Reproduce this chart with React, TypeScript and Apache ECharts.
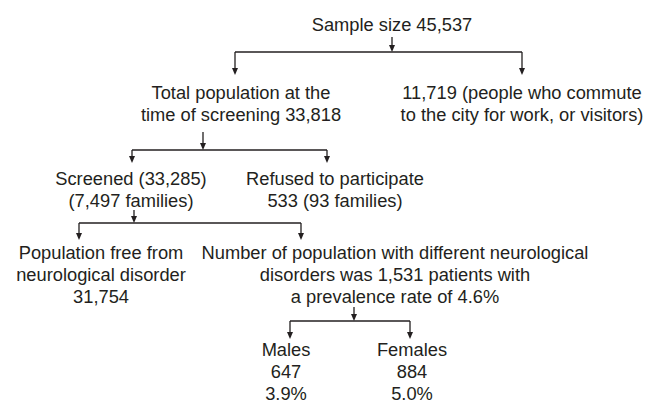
import React, { useEffect, useRef } from "react";
import * as echarts from "echarts";

// ---- Data: flowchart node texts (one array of lines per node) ----
const sampleNode = ["Sample size 45,537"];
const totalPopNode = ["Total population at the", "time of screening 33,818"];
const commuterNode = ["11,719 (people who commute", "to the city for work, or visitors)"];
const screenedNode = ["Screened (33,285)", "(7,497 families)"];
const refusedNode = ["Refused to participate", "533 (93 families)"];
const freeNode = ["Population free from", "neurological disorder", "31,754"];
const disorderNode = [
  "Number of population with different neurological",
  "disorders was 1,531 patients with",
  "a prevalence rate of 4.6%",
];
const malesNode = ["Males", "647", "3.9%"];
const femalesNode = ["Females", "884", "5.0%"];

const nodes = [
  sampleNode,
  totalPopNode,
  commuterNode,
  screenedNode,
  refusedNode,
  freeNode,
  disorderNode,
  malesNode,
  femalesNode,
];

// parent -> children
const links: [number, number[]][] = [
  [0, [1, 2]],
  [1, [3, 4]],
  [3, [5, 6]],
  [6, [7, 8]],
];

// ---- Layout (positions only) ----
const nodeCenterX = [392, 241, 522, 131, 335, 101, 395, 286, 412];
const nodeBaseline = [31, 99, 99, 185, 185, 259, 259, 356, 356];
const LINE_GAP = 22;
const FONT_SIZE = 18.3;

const branchStemX = [392, 203, 134, 354];
const branchStemTop = [37, 132, 210, 307];
const branchBarY = [52, 150, 223, 321];
const branchDropX = [
  [235, 522],
  [132, 327],
  [79, 301],
  [290, 410],
];
const branchDropEnd = [75, 163, 240, 339];

const INK = "#231f20";

function arrowHead(x: number, tipY: number) {
  return {
    type: "polygon",
    silent: true,
    shape: {
      points: [
        [x - 3, tipY - 7],
        [x + 3, tipY - 7],
        [x, tipY],
      ],
    },
    style: { fill: INK, stroke: "none" },
  };
}

function seg(x1: number, y1: number, x2: number, y2: number) {
  return {
    type: "line",
    silent: true,
    shape: { x1, y1, x2, y2 },
    style: { stroke: INK, lineWidth: 1.3 },
  };
}

export default function App() {
  const ref = useRef<HTMLDivElement>(null);

  useEffect(() => {
    if (!ref.current) return;
    const chart = echarts.init(ref.current, undefined, { renderer: "svg" });

    const elements: any[] = [];
    const centralShift = FONT_SIZE * 0.3465;

    nodes.forEach((lines, i) => {
      lines.forEach((line, j) => {
        elements.push({
          type: "text",
          silent: true,
          x: nodeCenterX[i],
          y: nodeBaseline[i] + j * LINE_GAP - centralShift,
          style: {
            text: line,
            fill: INK,
            font: `${FONT_SIZE}px "Liberation Sans", Arial, sans-serif`,
            align: "center",
            verticalAlign: "middle",
          },
        });
      });
    });

    links.forEach((_, k) => {
      const sx = branchStemX[k];
      const by = branchBarY[k];
      elements.push(seg(sx, branchStemTop[k], sx, by - 4));
      elements.push(arrowHead(sx, by));
      const [xl, xr] = branchDropX[k];
      elements.push(seg(xl, by, xr, by));
      [xl, xr].forEach((dx) => {
        elements.push(seg(dx, by, dx, branchDropEnd[k] - 4));
        elements.push(arrowHead(dx, branchDropEnd[k]));
      });
    });

    chart.setOption({
      animation: false,
      backgroundColor: "#ffffff",
      graphic: { elements },
    });

    return () => chart.dispose();
  }, []);

  return (
    <div
      ref={ref}
      style={{ position: "fixed", left: 0, top: 0, width: 653, height: 402 }}
    />
  );
}
